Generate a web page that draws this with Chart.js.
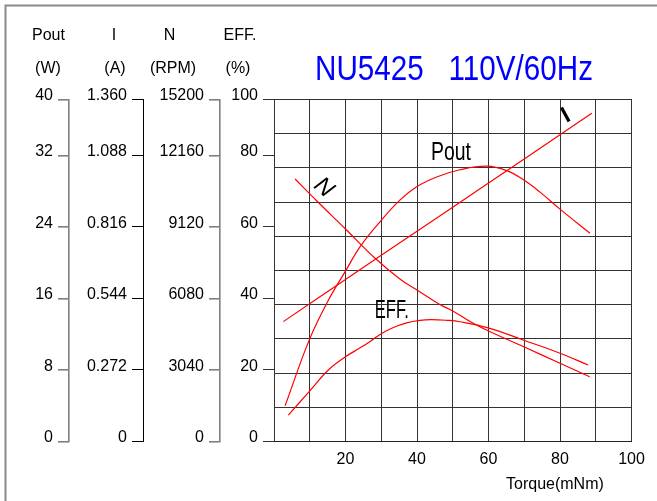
<!DOCTYPE html>
<html>
<head>
<meta charset="utf-8">
<script src="https://cdn.jsdelivr.net/npm/chart.js@4.4.1/dist/chart.umd.min.js"></script>
<style>
  html, body { margin: 0; padding: 0; background: #ffffff; }
  #wrap { width: 657px; height: 501px; position: relative; }
</style>
</head>
<body>
<div id="wrap"><canvas id="c" width="657" height="501"></canvas></div>
<script>
// ---------- data ----------
const torqueTicks = ['', '', '20', '', '40', '', '60', '', '80', '', '100'];

const poutTicks    = ['0', '8', '16', '24', '32', '40'];
const currentTicks = ['0', '0.272', '0.544', '0.816', '1.088', '1.360'];
const speedTicks   = ['0', '3040', '6080', '9120', '12160', '15200'];
const effTicks     = ['0', '20', '40', '60', '80', '100'];

const poutTorque = [3.1, 9.9, 15.2, 19.9, 24.1, 29.7, 35.2, 39.9, 45.5, 52, 59.5, 65.1, 69.7, 74.4, 80, 88.4];
const poutWatts  = [4.0, 11.4, 15.8, 19.0, 21.8, 24.6, 27.0, 28.5, 29.6, 30.4, 30.8, 30.3, 29.3, 27.9, 26.0, 23.3];

const currentTorque = [2.6, 20, 40, 60, 80, 88.9];
const currentAmps   = [0.456, 0.616, 0.800, 0.983, 1.167, 1.249];

const speedTorque = [5.9, 12, 20, 28.2, 35.2, 40, 46.4, 50, 55.6, 60, 70, 80, 88.3];
const speedRpm    = [11160, 10225, 9035, 7800, 6910, 6440, 5825, 5550, 5040, 4700, 4020, 3325, 2755];

const effTorque = [4.0, 9.9, 15.2, 20, 24.1, 26.9, 30.1, 33.4, 37.1, 40.8, 44, 48.3, 52, 59.9, 69.7, 80, 87.9];
const effPct    = [7.4, 14.0, 20.0, 23.7, 26.2, 28.0, 30.2, 31.9, 33.2, 33.9, 34.1, 33.9, 33.5, 31.8, 28.4, 24.7, 21.4];

// ---------- helpers ----------
const FONT = '"Liberation Sans", Arial, sans-serif';
const VISIBLE_STEPS = 4.783;   // tick intervals shown along each left axis (top tick sits at the top edge)

function pairs(xs, ys) { return xs.map((x, i) => ({ x: x, y: ys[i] })); }

function leftAxis(labels, weight, width, color, bw) {
  const step = Number(labels[1]);
  return {
    type: 'linear',
    position: 'left',
    weight: weight,
    min: 0,
    max: step * VISIBLE_STEPS,
    afterBuildTicks: (s) => {
      s.ticks = labels.map((l, i) => ({ value: i < labels.length - 1 ? i * step : s.max }));
    },
    afterFit: (s) => { s.width = width; },
    ticks: {
      autoSkip: false,
      padding: 5,
      labelOffset: -3.5,
      color: '#000',
      font: { family: FONT, size: 16 },
      callback: (v, i) => labels[i]
    },
    grid: { drawOnChartArea: false, drawTicks: true, tickLength: 11, color: color, lineWidth: bw },
    border: { display: true, color: color, width: bw }
  };
}

function drawText(ctx, text, x, y, size, opts) {
  opts = opts || {};
  ctx.save();
  ctx.font = (opts.style ? opts.style + ' ' : '') + (opts.weight ? opts.weight + ' ' : '') + size + 'px ' + FONT;
  ctx.fillStyle = opts.color || '#000';
  ctx.textBaseline = opts.baseline || 'alphabetic';
  ctx.textAlign = opts.align || 'left';
  ctx.translate(x, y);
  if (opts.rotate) ctx.rotate(opts.rotate);
  if (opts.width) {
    const w = ctx.measureText(text).width;
    ctx.scale(opts.width / w, 1);
  }
  ctx.fillText(text, 0, 0);
  ctx.restore();
}

const decor = {
  id: 'decor',
  beforeDraw(chart) {
    const ctx = chart.ctx;
    ctx.save();
    ctx.fillStyle = '#fff';
    ctx.fillRect(0, 0, chart.width, chart.height);
    ctx.strokeStyle = '#8a8a8a';
    ctx.lineWidth = 2;
    ctx.beginPath();
    ctx.moveTo(5.5, chart.height);
    ctx.lineTo(5.5, 5.5);
    ctx.lineTo(chart.width, 5.5);
    ctx.stroke();
    ctx.restore();
  },
  afterDraw(chart) {
    const ctx = chart.ctx;
    // column headers
    const hdr = [['Pout', '(W)', 48.5, 48], ['I', '(A)', 114, 115], ['N', '(RPM)', 169.5, 173], ['EFF.', '(%)', 240, 238]];
    hdr.forEach(h => {
      drawText(ctx, h[0], h[2], 39.5, 16, { align: 'center' });
      drawText(ctx, h[1], h[3], 72.5, 16, { align: 'center' });
    });
    // title
    drawText(ctx, 'NU5425   110V/60Hz', 315, 80, 35, { color: '#0000ff', width: 278 });
    // x axis title
    drawText(ctx, 'Torque(mNm)', 506, 488.5, 16);
    // curve labels, placed by data coordinates
    const xs = chart.scales.x, gy = chart.scales.yGrid;
    drawText(ctx, 'Pout', xs.getPixelForValue(43.9), gy.getPixelForValue(8.23), 25, { width: 40 });
    drawText(ctx, 'EFF.', xs.getPixelForValue(28.2), gy.getPixelForValue(3.62), 25, { width: 34 });
    drawText(ctx, 'N', xs.getPixelForValue(13.9), gy.getPixelForValue(7.42), 24, { align: 'center', baseline: 'middle', rotate: 0.72, style: 'italic' });
    drawText(ctx, 'I', xs.getPixelForValue(81.7), gy.getPixelForValue(9.52), 23, { align: 'center', baseline: 'middle', rotate: -0.5, weight: 'bold' });
  }
};

const lineStyle = { borderColor: '#ff0000', borderWidth: 1.2, pointRadius: 0, fill: false, tension: 0.4 };

new Chart(document.getElementById('c'), {
  type: 'line',
  data: {
    datasets: [
      Object.assign({ label: 'Pout', yAxisID: 'yPout', data: pairs(poutTorque, poutWatts) }, lineStyle),
      Object.assign({ label: 'I', yAxisID: 'yI', data: pairs(currentTorque, currentAmps) }, lineStyle),
      Object.assign({ label: 'N', yAxisID: 'yN', data: pairs(speedTorque, speedRpm) }, lineStyle),
      Object.assign({ label: 'EFF.', yAxisID: 'yEff', data: pairs(effTorque, effPct) }, lineStyle)
    ]
  },
  options: {
    responsive: false,
    animation: false,
    layout: { padding: { left: 0, right: 25.5, top: 99.5, bottom: 0 } },
    plugins: { legend: { display: false }, title: { display: false }, tooltip: { enabled: false } },
    scales: {
      x: {
        type: 'linear',
        position: 'bottom',
        min: 0,
        max: 100,
        afterFit: (s) => { s.height = 59.5; },
        ticks: {
          stepSize: 10,
          autoSkip: false,
          maxRotation: 0,
          padding: 8,
          color: '#000',
          font: { family: FONT, size: 16 },
          callback: (v, i) => torqueTicks[i]
        },
        grid: { drawTicks: false, color: '#333', lineWidth: 1 },
        border: { display: true, color: '#222', width: 1 }
      },
      yPout: leftAxis(poutTicks, 3, 69, '#808080', 1.6),
      yI: leftAxis(currentTicks, 2, 74, '#000000', 1),
      yN: leftAxis(speedTicks, 1, 77, '#808080', 1.6),
      yEff: leftAxis(effTicks, 0, 54, '#333333', 1),
      yGrid: {
        type: 'linear',
        position: 'right',
        min: 0,
        max: 10,
        afterFit: (s) => { s.width = 0; },
        ticks: { display: false, stepSize: 1 },
        grid: { drawTicks: false, color: '#333', lineWidth: 1 },
        border: { display: false }
      }
    }
  },
  plugins: [decor]
});
</script>
</body>
</html>
